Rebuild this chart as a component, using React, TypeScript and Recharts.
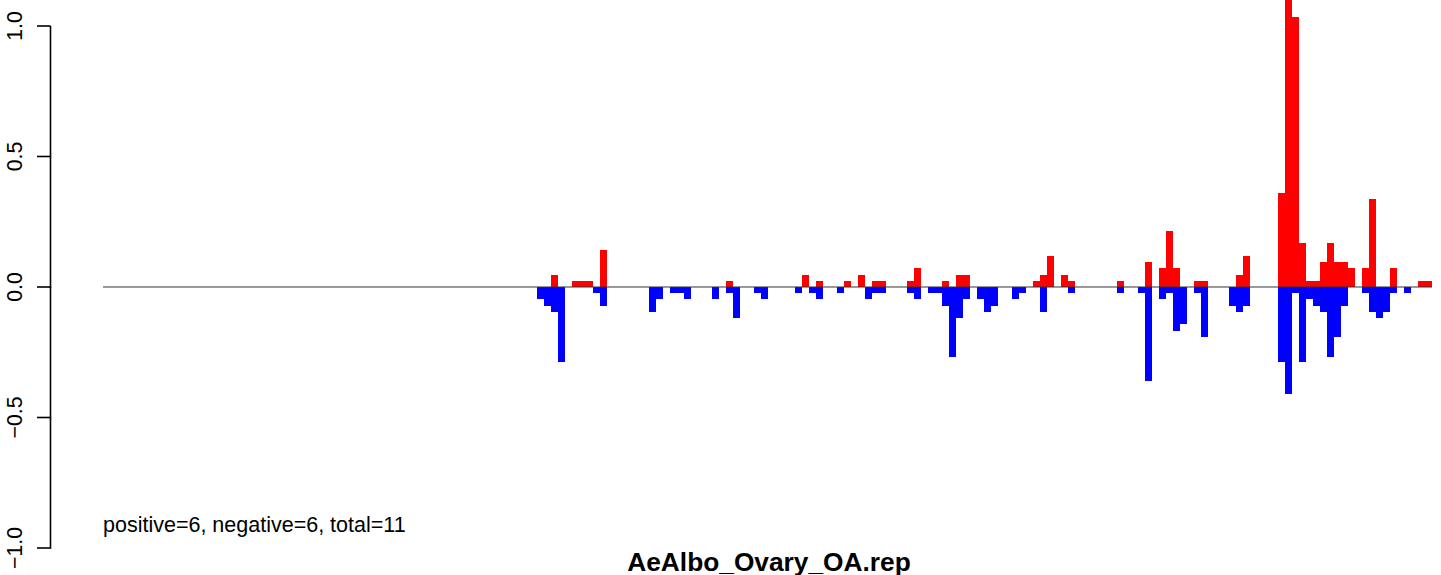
import React from "react";
import { BarChart, Bar, XAxis, YAxis, ReferenceLine } from "recharts";

const BIN_COUNT = 190;
const bins: number[] = Array.from({ length: BIN_COUNT }, (_, i) => i);

// [bin index, value]
const positiveBars: [number, number][] = [
  [64, 0.047], [67, 0.024], [68, 0.024], [69, 0.024], [71, 0.143],
  [89, 0.024], [100, 0.047], [102, 0.024], [106, 0.024], [108, 0.047],
  [110, 0.024], [111, 0.024], [115, 0.024], [116, 0.071], [120, 0.024],
  [122, 0.047], [123, 0.047], [133, 0.024], [134, 0.047], [135, 0.119],
  [137, 0.047], [138, 0.024], [145, 0.024], [149, 0.095], [151, 0.071],
  [152, 0.214], [153, 0.071], [156, 0.024], [157, 0.024], [162, 0.047],
  [163, 0.119], [168, 0.36], [169, 1.15], [170, 1.033], [171, 0.167],
  [172, 0.024], [173, 0.024], [174, 0.095], [175, 0.167], [176, 0.095],
  [177, 0.095], [178, 0.071], [180, 0.071], [181, 0.337], [184, 0.071],
  [188, 0.024], [189, 0.024],
];

const negativeBars: [number, number][] = [
  [62, -0.047], [63, -0.071], [64, -0.095], [65, -0.289], [70, -0.024],
  [71, -0.071], [78, -0.095], [79, -0.047], [81, -0.024], [82, -0.024],
  [83, -0.047], [87, -0.047], [89, -0.024], [90, -0.119], [93, -0.024],
  [94, -0.047], [99, -0.024], [101, -0.024], [102, -0.047], [105, -0.024],
  [109, -0.047], [110, -0.024], [111, -0.024], [115, -0.024], [116, -0.047],
  [118, -0.024], [119, -0.024], [120, -0.071], [121, -0.267], [122, -0.119],
  [123, -0.047], [125, -0.047], [126, -0.095], [127, -0.071], [130, -0.047],
  [131, -0.024], [134, -0.095], [138, -0.024], [145, -0.024], [148, -0.024],
  [149, -0.362], [151, -0.047], [152, -0.024], [153, -0.167], [154, -0.143],
  [156, -0.024], [157, -0.193], [161, -0.071], [162, -0.095], [163, -0.071],
  [168, -0.289], [169, -0.41], [170, -0.024], [171, -0.289], [172, -0.047],
  [173, -0.071], [174, -0.095], [175, -0.267], [176, -0.193], [177, -0.071],
  [180, -0.024], [181, -0.095], [182, -0.119], [183, -0.095], [184, -0.024],
  [186, -0.024],
];

const yTicks = [-1, -0.5, 0, 0.5, 1];
const yTickLabels = ["\u22121.0", "\u22120.5", "0.0", "0.5", "1.0"];

const summaryText = "positive=6, negative=6, total=11";
const titleText = "AeAlbo_Ovary_OA.rep";

const posMap = new Map(positiveBars);
const negMap = new Map(negativeBars);
const data = bins.map((b) => ({
  bin: b,
  pos: posMap.get(b) ?? 0,
  neg: negMap.get(b) ?? 0,
}));

const FONT = "'Liberation Sans', Arial, Helvetica, sans-serif";
const AXIS_X = 50.5;

const YTick = (props: any) => {
  const { y, payload } = props;
  const v = payload.value as number;
  const idx = yTicks.indexOf(v);
  const label = idx >= 0 ? yTickLabels[idx] : String(v);
  return (
    <g>
      <line x1={37} x2={AXIS_X} y1={y} y2={y} stroke="#000" strokeWidth={1.6} />
      {v < 1 && (
        <line x1={AXIS_X} x2={AXIS_X} y1={y + 0.8} y2={y - 130.5} stroke="#000" strokeWidth={1.6} />
      )}
      <text
        transform={`translate(22, ${y}) rotate(-90)`}
        textAnchor="middle"
        fontFamily={FONT}
        fontSize={21.3}
        fill="#000"
      >
        {label}
      </text>
    </g>
  );
};

export default function App() {
  return (
    <div style={{ position: "absolute", left: 0, top: 0, width: 1441, height: 575, background: "#fff" }}>
      <BarChart
        width={1441}
        height={575}
        data={data}
        margin={{ top: 0, right: 9, bottom: 27, left: 0 }}
        barCategoryGap={0}
        barGap={0}
        stackOffset="sign"
      >
        <XAxis dataKey="bin" hide />
        <YAxis
          type="number"
          domain={[-1, 1.0996]}
          allowDataOverflow
          ticks={yTicks}
          interval={0}
          tick={<YTick />}
          axisLine={false}
          tickLine={false}
          width={103}
        />
        <Bar dataKey="pos" stackId="s" fill="#FF0000" isAnimationActive={false} shapeRendering="crispEdges" />
        <Bar dataKey="neg" stackId="s" fill="#0000FF" isAnimationActive={false} shapeRendering="crispEdges" />
        <ReferenceLine y={0} stroke="#333" strokeWidth={1} />
      </BarChart>
      <svg
        width={1441}
        height={575}
        style={{ position: "absolute", left: 0, top: 0, pointerEvents: "none" }}
      >
        <text x={103} y={532} fontFamily={FONT} fontSize={21.5} fill="#000">
          {summaryText}
        </text>
        <text x={769} y={571} textAnchor="middle" fontFamily={FONT} fontSize={26.3} fontWeight="bold" fill="#000">
          {titleText}
        </text>
      </svg>
    </div>
  );
}
